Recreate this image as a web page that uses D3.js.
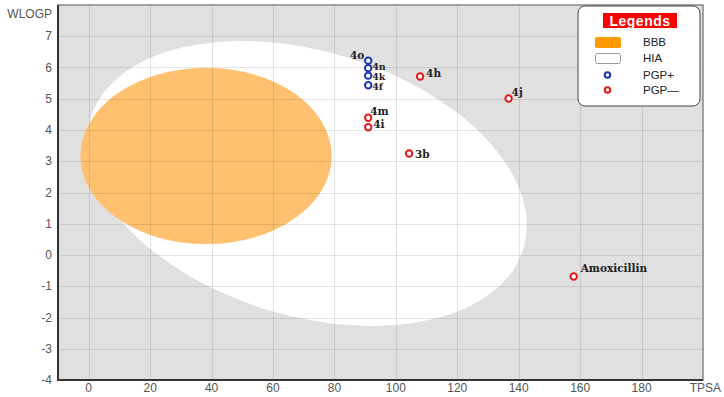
<!DOCTYPE html>
<html>
<head>
<meta charset="utf-8">
<script src="https://cdn.jsdelivr.net/npm/d3@7"></script>
<style>
  body { margin: 0; background: #fff; }
  svg { font-family: "Liberation Sans", Arial, sans-serif; }
</style>
</head>
<body>
<div id="chart"></div>
<script>
// compounds: TPSA, WLOGP, PGP class
var names  = ["4o", "4n", "4k", "4f", "4h", "4j", "4m", "4i", "3b", "Amoxicillin"];
var tpsa   = [91.0, 91.0, 91.0, 91.0, 107.9, 136.7, 91.0, 91.0, 104.3, 157.9];
var wlogp  = [6.22, 5.98, 5.74, 5.43, 5.71, 5.01, 4.39, 4.09, 3.25, -0.69];
var pgp    = ["+", "+", "+", "+", "-", "-", "-", "-", "-", "-"];

// egg regions (centre in data units, semi axes in TPSA units, angle in degrees)
var regionNames = ["HIA", "BBB"];
var regionCx    = [71.05, 38.2];
var regionCy    = [2.29, 3.17];
var regionA     = [73.6, 40.9];
var regionB     = [43.1, 28.7];
var regionAngle = [16.7, 0];

var xTicks = [0, 20, 40, 60, 80, 100, 120, 140, 160, 180];
var yTicks = [-4, -3, -2, -1, 0, 1, 2, 3, 4, 5, 6, 7];

var legendLabels = ["BBB", "HIA", "PGP+", "PGP\u2014"];

var width = 724, height = 397;
var margin = {top: 5, right: 21, bottom: 17, left: 58};

var svg = d3.select("#chart").append("svg")
  .attr("width", width)
  .attr("height", height);

var x = d3.scaleLinear().domain([-10, 200]).range([margin.left, width - margin.right]);
var y = d3.scaleLinear().domain([-4, 8]).range([height - margin.bottom, margin.top]);
var pxPerUnit = x(1) - x(0);

// plot background
svg.append("rect")
  .attr("x", x(-10)).attr("y", y(8))
  .attr("width", x(200) - x(-10))
  .attr("height", y(-4) - y(8))
  .attr("fill", "#e0e0e0");

// regions
var regionFill = {HIA: "#ffffff", BBB: "#ffc070"};
regionNames.forEach(function(n, i) {
  svg.append("ellipse")
    .attr("cx", 0).attr("cy", 0)
    .attr("rx", regionA[i] * pxPerUnit)
    .attr("ry", regionB[i] * pxPerUnit)
    .attr("fill", regionFill[n])
    .attr("transform", "translate(" + x(regionCx[i]) + "," + y(regionCy[i]) + ") rotate(" + regionAngle[i] + ")");
});

// grid
var grid = svg.append("g").attr("stroke", "rgba(0,0,0,0.1)").attr("stroke-width", 1);
xTicks.forEach(function(t) {
  grid.append("line")
    .attr("x1", Math.round(x(t)) + 0.5).attr("x2", Math.round(x(t)) + 0.5)
    .attr("y1", y(8)).attr("y2", y(-4));
});
yTicks.forEach(function(t) {
  grid.append("line")
    .attr("x1", x(-10)).attr("x2", x(200))
    .attr("y1", Math.round(y(t)) + 0.5).attr("y2", Math.round(y(t)) + 0.5);
});

// frame
svg.append("rect")
  .attr("x", x(-10)).attr("y", y(8))
  .attr("width", x(200) - x(-10))
  .attr("height", y(-4) - y(8))
  .attr("fill", "none")
  .attr("stroke", "#888")
  .attr("stroke-width", 1.5);
svg.append("path")
  .attr("d", "M" + x(-10) + "," + y(8) + "V" + y(-4) + "H" + x(200))
  .attr("fill", "none")
  .attr("stroke", "#333")
  .attr("stroke-width", 2);

// tick labels
svg.append("g").selectAll("text")
  .data(xTicks).enter().append("text")
  .attr("x", function(d) { return x(d); })
  .attr("y", height - 5)
  .attr("text-anchor", "middle")
  .attr("font-size", 12)
  .attr("fill", "#555")
  .text(function(d) { return d; });

svg.append("g").selectAll("text")
  .data(yTicks).enter().append("text")
  .attr("x", margin.left - 6)
  .attr("y", function(d) { return y(d) + 4; })
  .attr("text-anchor", "end")
  .attr("font-size", 12)
  .attr("fill", "#555")
  .text(function(d) { return d; });

svg.append("text")
  .attr("x", margin.left - 6).attr("y", 18)
  .attr("text-anchor", "end")
  .attr("font-size", 12).attr("fill", "#555")
  .text("WLOGP");

svg.append("text")
  .attr("x", width - 3).attr("y", height - 5)
  .attr("text-anchor", "end")
  .attr("font-size", 12).attr("fill", "#555")
  .text("TPSA");

// points
var pgpColor = {"+": "#1b35b5", "-": "#e3191c"};
// label placement: dx, dy (px from the point), anchor, font size
var labelOffset = {
  "4o": [-4, -2, "end", 10.5], "4n": [4, 2, "start", 9.5], "4k": [4, 4.5, "start", 9.5],
  "4f": [4, 4.5, "start", 9.5], "4h": [6, 0, "start", 10.5], "4j": [3, -2, "start", 10.5],
  "4m": [2, -3, "start", 10.5], "4i": [5, 1, "start", 10.5], "3b": [6, 5, "start", 10.5],
  "Amoxicillin": [7, -5, "start", 10.5]
};

var pts = svg.append("g");
names.forEach(function(n, i) {
  pts.append("circle")
    .attr("cx", x(tpsa[i]))
    .attr("cy", y(wlogp[i]))
    .attr("r", 3.2)
    .attr("fill", "#fff")
    .attr("stroke", pgpColor[pgp[i]])
    .attr("stroke-width", 2);
  var o = labelOffset[n];
  pts.append("text")
    .attr("x", x(tpsa[i]) + o[0])
    .attr("y", y(wlogp[i]) + o[1])
    .attr("text-anchor", o[2])
    .style("font-family", "'DejaVu Serif', serif")
    .attr("font-weight", "bold")
    .attr("font-size", o[3])
    .attr("fill", "#222")
    .text(n);
});

// legend
var lg = svg.append("g").attr("transform", "translate(578,6)");
lg.append("rect")
  .attr("width", 122).attr("height", 100)
  .attr("rx", 7)
  .attr("fill", "#fff")
  .attr("stroke", "#444")
  .attr("stroke-width", 1);
lg.append("rect")
  .attr("x", 25).attr("y", 7)
  .attr("width", 74).attr("height", 15)
  .attr("fill", "#ff0000");
lg.append("text")
  .attr("x", 62).attr("y", 19.5)
  .attr("text-anchor", "middle")
  .attr("font-size", 14).attr("font-weight", "bold")
  .attr("fill", "#fff")
  .attr("letter-spacing", 0.5)
  .text("Legends");

var rowY = [36, 52, 69, 84];
lg.append("rect")
  .attr("x", 17).attr("y", rowY[0] - 5)
  .attr("width", 26).attr("height", 11).attr("rx", 2)
  .attr("fill", "#ff9900");
lg.append("rect")
  .attr("x", 17.5).attr("y", rowY[1] - 4.5)
  .attr("width", 25).attr("height", 10).attr("rx", 2)
  .attr("fill", "#fff").attr("stroke", "#999");
lg.append("circle")
  .attr("cx", 29.5).attr("cy", rowY[2])
  .attr("r", 2.8).attr("fill", "#fff")
  .attr("stroke", pgpColor["+"]).attr("stroke-width", 2);
lg.append("circle")
  .attr("cx", 29.5).attr("cy", rowY[3])
  .attr("r", 2.8).attr("fill", "#fff")
  .attr("stroke", pgpColor["-"]).attr("stroke-width", 2);

lg.selectAll("text.item")
  .data(legendLabels).enter().append("text")
  .attr("class", "item")
  .attr("x", 65)
  .attr("y", function(d, i) { return rowY[i] + 4; })
  .attr("font-size", 11.5)
  .attr("fill", "#222")
  .text(function(d) { return d; });
</script>
</body>
</html>
